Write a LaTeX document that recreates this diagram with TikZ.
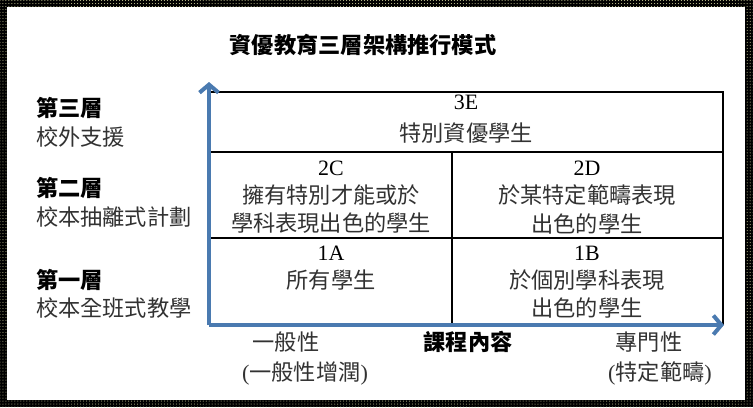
\documentclass[tikz,border=0pt]{standalone}
\usepackage{fontspec}
\setmainfont{Liberation Serif}
\newfontfamily\cjk{Noto Sans CJK TC}
\usetikzlibrary{arrows.meta,patterns}
\definecolor{axisblue}{RGB}{74,122,176}
\definecolor{txt}{RGB}{50,50,50}
\definecolor{dotc}{RGB}{215,215,160}
\begin{document}
\begin{tikzpicture}[x=1bp,y=-1bp,
  every node/.style={inner sep=0pt,outer sep=0pt,text=txt},
  body/.style={font=\fontsize{22.3}{25}\selectfont\cjk},
  hd/.style={font=\fontsize{22.3}{25}\selectfont\cjk\bfseries,text=black},
  lat/.style={font=\fontsize{22}{25}\selectfont\rmfamily,text=black},
  grid/.style={line width=1.1bp,black},
  axis/.style={line width=4bp,axisblue,-{Straight Barb[length=8bp,width=19bp]}}]
\useasboundingbox (0,0) rectangle (753,407);
% frame
\fill[black] (0,0) rectangle (753,407);
\fill[pattern=dots,pattern color=dotc] (0,0) rectangle (753,407);
\fill[white] (7,7) rectangle (745,400);
% title
\node[hd] (title) at (363,45) {資優教育三層架構推行模式};
% left labels
\node[hd,anchor=west] (l3a) at (36,108) {第三層};
\node[body,anchor=west] (l3b) at (36,137) {校外支援};
\node[hd,anchor=west] (l2a) at (36,188) {第二層};
\node[body,anchor=west] (l2b) at (36,217) {校本抽離式計劃};
\node[hd,anchor=west] (l1a) at (36,280) {第一層};
\node[body,anchor=west] (l1b) at (36,308) {校本全班式教學};
% grid
\coordinate (tl) at (210,92);
\coordinate (tr) at (723,92);
\coordinate (br) at (723,325);
\coordinate (r2l) at (210,152);
\coordinate (r2r) at (723,152);
\coordinate (r1l) at (210,238);
\coordinate (r1r) at (723,238);
\coordinate (mt) at (452,152);
\coordinate (mb) at (452,325);
\draw[grid] (tl) -- (tr) -- (br);
\draw[grid] (r2l) -- (r2r);
\draw[grid] (r1l) -- (r1r);
\draw[grid] (mt) -- (mb);
% axes
\coordinate (o) at (209,325);
\coordinate (ytip) at (209,82);
\coordinate (xtip) at (724,325);
\draw[axis] (o) -- (ytip);
\draw[axis] (o) -- (xtip);
% cells
\node[lat] (e3) at (466,102) {3E};
\node[body] (e3t) at (466,133) {特別資優學生};
\node[lat] (c2) at (331,168) {2C};
\node[body] (c2t1) at (331,195) {擁有特別才能或於};
\node[body] (c2t2) at (331,223) {學科表現出色的學生};
\node[lat] (d2) at (587,168) {2D};
\node[body] (d2t1) at (587,195) {於某特定範疇表現};
\node[body] (d2t2) at (587,224) {出色的學生};
\node[lat] (a1) at (331,253) {1A};
\node[body] (a1t) at (331,280) {所有學生};
\node[lat] (b1) at (587,253) {1B};
\node[body] (b1t1) at (587,280) {於個別學科表現};
\node[body] (b1t2) at (587,308) {出色的學生};
% bottom labels
\node[body] (g1) at (286,342) {一般性};
\node[body] (g2) at (305,373) {\rmfamily(\cjk 一般性增潤\rmfamily)};
\node[hd] (xl) at (468,342) {課程內容};
\node[body] (s1) at (649,342) {專門性};
\node[body] (s2) at (660,373) {\rmfamily(\cjk 特定範疇\rmfamily)};
\end{tikzpicture}
\end{document}
